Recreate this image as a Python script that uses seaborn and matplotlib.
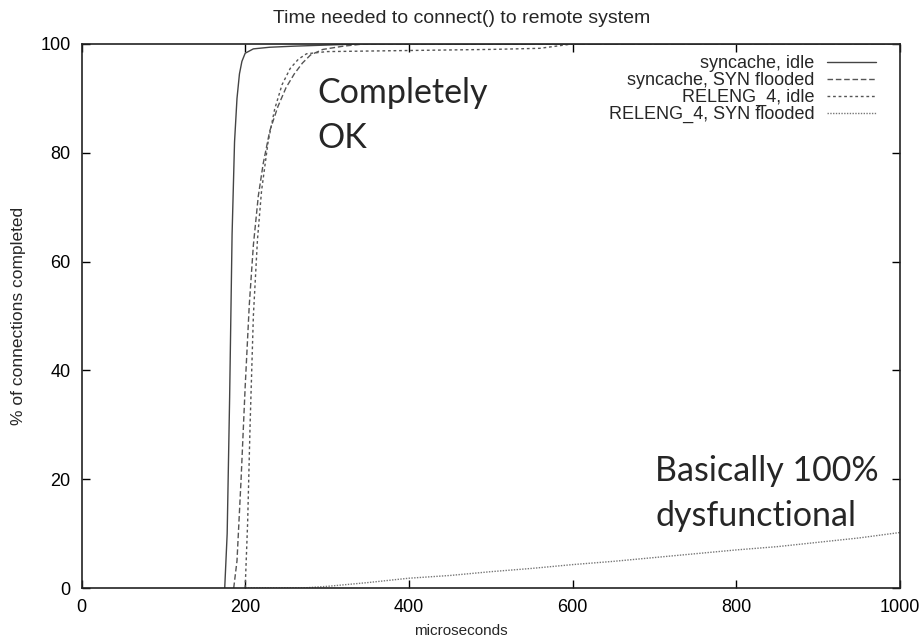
import numpy as np
import pandas as pd
import matplotlib.pyplot as plt
import seaborn as sns

# series (microseconds vs % of connections completed)
sync_idle_x = [175, 178, 181, 184, 187, 190, 193, 196, 200, 210, 230, 260, 300, 340, 1000]
sync_idle_y = [0, 10, 35, 65, 82, 90, 94.5, 96.8, 98.3, 99.1, 99.4, 99.6, 99.8, 100, 100]

sync_flood_x = [186, 190, 195, 200, 205, 210, 216, 222, 230, 240, 250, 260, 270, 280, 295, 320, 345, 1000]
sync_flood_y = [0, 5, 20, 37, 52, 63, 72, 78, 84, 88.5, 92, 94.5, 96.5, 98, 99, 99.6, 100, 100]

releng_idle_x = [200, 203, 206, 210, 215, 220, 228, 236, 245, 255, 265, 275, 300, 400, 500, 560, 580, 600, 1000]
releng_idle_y = [0, 12, 30, 50, 64, 73, 82, 88, 92.5, 95.5, 97.2, 98.2, 98.6, 98.8, 99.0, 99.2, 99.6, 100, 100]

releng_flood_x = [200, 270, 300, 350, 400, 450, 500, 550, 600, 650, 700, 750, 800, 850, 900, 950, 1000]
releng_flood_y = [0, 0, 0.3, 1.0, 1.8, 2.3, 3.0, 3.6, 4.3, 4.9, 5.6, 6.3, 7.0, 7.6, 8.4, 9.2, 10.2]

labels = ["syncache, idle", "syncache, SYN flooded", "RELENG_4, idle", "RELENG_4, SYN flooded"]
x_ticks = [0, 200, 400, 600, 800, 1000]
y_ticks = [0, 20, 40, 60, 80, 100]

sns.set_style("ticks")
plt.rcParams['font.family'] = ['Liberation Sans', 'DejaVu Sans']

fig = plt.figure(figsize=(9.22, 6.42), dpi=100)
ax = fig.add_axes([0.0884, 0.0841, 0.976 - 0.0884, 0.9315 - 0.0841])

series = [
    (sync_idle_x, sync_idle_y, '-', '#444444', 1.0),
    (sync_flood_x, sync_flood_y, (0, (4, 2)), '#555555', 1.0),
    (releng_idle_x, releng_idle_y, (0, (2, 2)), '#555555', 1.0),
    (releng_flood_x, releng_flood_y, (0, (1, 1)), '#777777', 1.0),
]
for (xs, ys, ls, col, lw), lab in zip(series, labels):
    df = pd.DataFrame({'x': xs, 'y': ys})
    sns.lineplot(data=df, x='x', y='y', ax=ax, color=col, linestyle=ls, linewidth=lw, label=lab)

ax.set_xlim(0, 1000)
ax.set_ylim(0, 100)
ax.set_xticks(x_ticks)
ax.set_yticks(y_ticks)
ax.tick_params(direction='in', top=True, right=True, length=6, width=1, pad=8, labelsize=13, colors='black')
for sp in ax.spines.values():
    sp.set_linewidth(1.2)
    sp.set_color('#222222')

# title and xlabel are centred on the figure, not the plot area
ax.set_title('Time needed to connect() to remote system', fontsize=14, pad=15, x=0.464)
ax.set_xlabel('microseconds', fontsize=11, labelpad=6, x=0.464)
ax.set_ylabel('% of connections completed', fontsize=12.5, labelpad=10)

# gnuplot-like legend: right-aligned text, line sample on the right
leg = ax.legend(loc='upper right', bbox_to_anchor=(0.980, 0.993), borderaxespad=0,
                frameon=False, markerfirst=False, fontsize=13,
                handlelength=2.75, handletextpad=0.66, labelspacing=0.0)

# annotations
ax.text(288, 94, 'Completely\nOK', fontsize=24.5, family=['Lato', 'DejaVu Sans'],
        va='top', ha='left', linespacing=1.5)
ax.text(701, 24.5, 'Basically 100%\ndysfunctional', fontsize=24.5, family=['Lato', 'DejaVu Sans'],
        va='top', ha='left', linespacing=1.5)

plt.savefig('out.png', dpi=100)
